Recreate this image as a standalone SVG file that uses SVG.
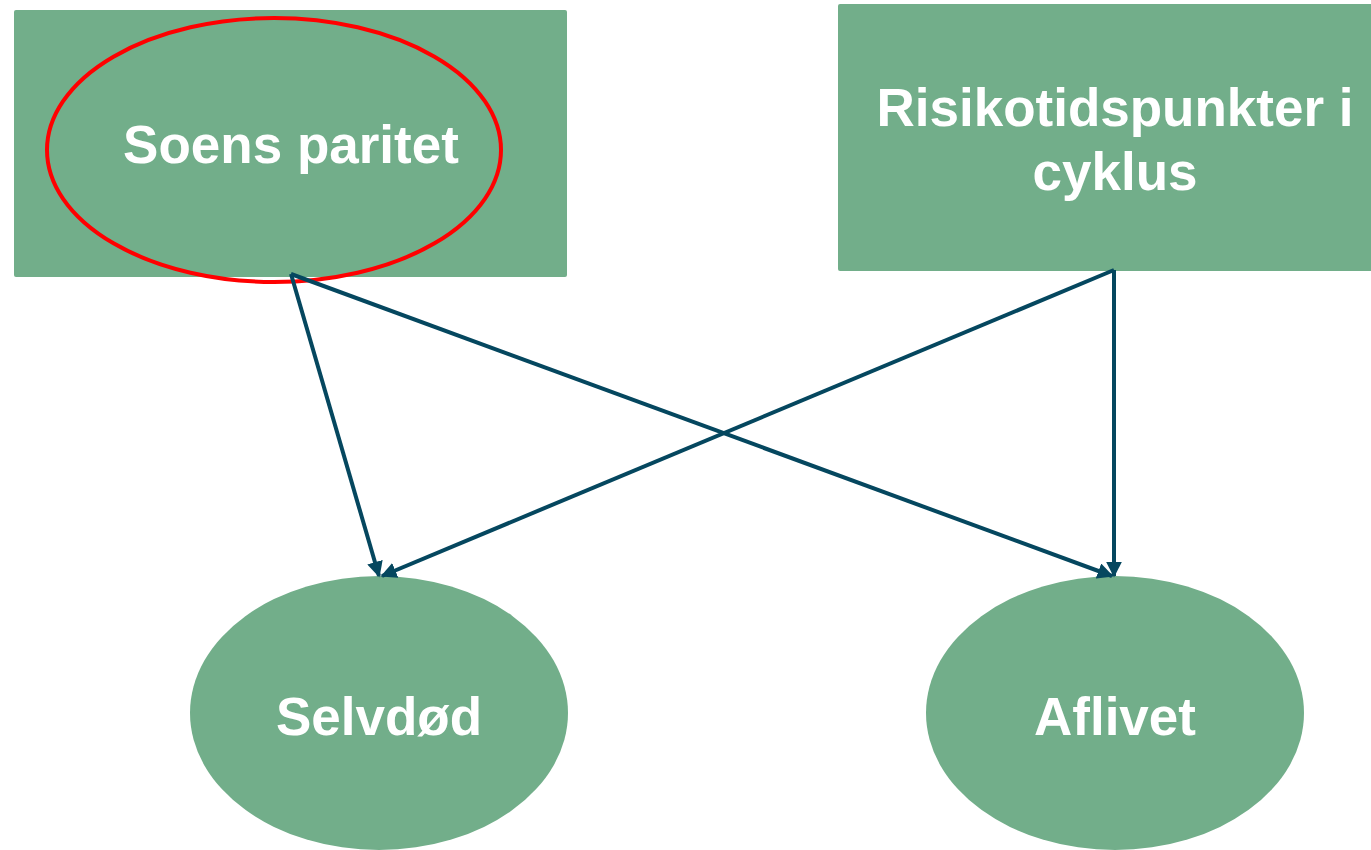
<svg xmlns="http://www.w3.org/2000/svg" width="1371" height="850" viewBox="0 0 1371 850">
<style>
.node{fill:#72ae8a}
.lbl{font-family:"Liberation Sans",Arial,sans-serif;font-weight:bold;font-size:53px;fill:#ffffff;text-anchor:middle}
.edge{stroke:#05475f;stroke-width:4;fill:none;marker-end:url(#ah)}
</style>
<defs>
<marker id="ah" viewBox="0 0 10 10" refX="9" refY="5" markerWidth="4" markerHeight="4" orient="auto" markerUnits="strokeWidth">
<path d="M0,0 L10,5 L0,10 z" fill="#05475f"/>
</marker>
</defs>
<rect width="1371" height="850" fill="#ffffff"/>
<g id="soens-paritet">
<rect class="node" x="14" y="10" width="553" height="267" rx="2"/>
<ellipse cx="274" cy="150" rx="227" ry="132" fill="none" stroke="#ff0000" stroke-width="4"/>
<text class="lbl" x="291" y="163">Soens paritet</text>
</g>
<g id="risikotidspunkter">
<rect class="node" x="838" y="4" width="540" height="267" rx="2"/>
<text class="lbl" x="1115" y="126">Risikotidspunkter i</text>
<text class="lbl" x="1115" y="190">cyklus</text>
</g>
<g id="selvdod">
<ellipse class="node" cx="379" cy="713" rx="189" ry="137"/>
<text class="lbl" x="379" y="735">Selvdød</text>
</g>
<g id="aflivet">
<ellipse class="node" cx="1115" cy="713" rx="189" ry="137"/>
<text class="lbl" x="1115" y="735">Aflivet</text>
</g>
<g id="connectors">
<line class="edge" x1="291" y1="274" x2="379" y2="576"/>
<line class="edge" x1="291" y1="274" x2="1112" y2="576"/>
<line class="edge" x1="1114" y1="270" x2="382" y2="576"/>
<line class="edge" x1="1114" y1="270" x2="1114" y2="576"/>
</g>
</svg>
